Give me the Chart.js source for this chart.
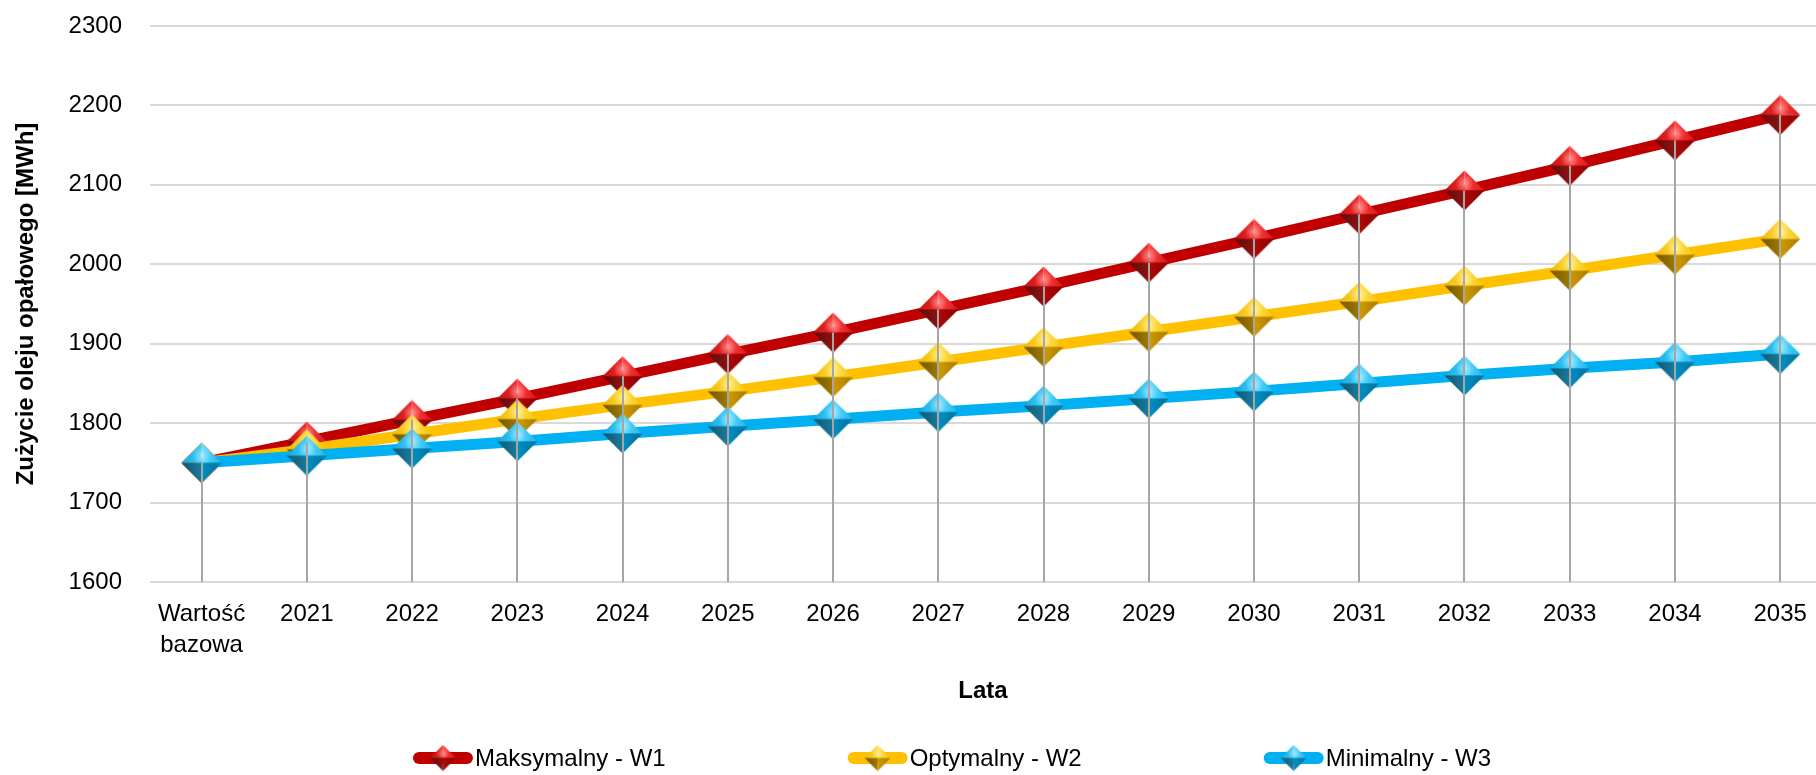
<!DOCTYPE html>
<html>
<head>
<meta charset="utf-8">
<script src="https://cdn.jsdelivr.net/npm/chart.js@4.4.0/dist/chart.umd.min.js"></script>
<style>
  html, body { margin: 0; padding: 0; background: #fff; }
</style>
</head>
<body>
<canvas id="chart" width="1816" height="775"></canvas>
<script>
// Categories (x axis)
const categories = [['Wartość', 'bazowa'], '2021', '2022', '2023', '2024', '2025', '2026', '2027',
  '2028', '2029', '2030', '2031', '2032', '2033', '2034', '2035'];

// Series values [MWh]
const maksymalnyW1 = [1750, 1777, 1804, 1831, 1859, 1887, 1914, 1943, 1972, 2002, 2032, 2063, 2093, 2124, 2156, 2188];
const optymalnyW2 = [1750, 1767, 1786, 1805, 1823, 1840, 1858, 1877, 1896, 1915, 1934, 1953, 1973, 1992, 2012, 2032];
const minimalnyW3 = [1750, 1759, 1768, 1777, 1787, 1796, 1805, 1814, 1822, 1831, 1840, 1850, 1860, 1869, 1877, 1887];

const seriesNames = ['Maksymalny - W1', 'Optymalny - W2', 'Minimalny - W3'];

// Y axis range
const yMin = 1600;
const yMax = 2300;
const yStep = 100;

const FONT = "'Liberation Sans', Arial, sans-serif";
Chart.defaults.font.family = FONT;
Chart.defaults.color = '#000';

// Beveled diamond marker, drawn once per colour
function makeMarker(size, shades) {
  const cv = document.createElement('canvas');
  cv.width = size;
  cv.height = size;
  const g = cv.getContext('2d');
  const m = size / 2;
  const r = size / 2 - 0.5;
  const T = [m, m - r], R = [m + r, m], B = [m, m + r], L = [m - r, m], C = [m, m];

  function face(a, b, fill) {
    g.beginPath();
    g.moveTo(a[0], a[1]);
    g.lineTo(b[0], b[1]);
    g.lineTo(C[0], C[1]);
    g.closePath();
    g.fillStyle = fill;
    g.fill();
  }

  let gr = g.createLinearGradient(L[0], L[1], C[0], C[1]);
  gr.addColorStop(0, shades.tl[0]);
  gr.addColorStop(1, shades.tl[1]);
  face(T, L, gr);

  gr = g.createLinearGradient(R[0], R[1], C[0], C[1]);
  gr.addColorStop(0, shades.tr[0]);
  gr.addColorStop(1, shades.tr[1]);
  face(T, R, gr);

  gr = g.createLinearGradient(R[0], R[1], C[0], C[1]);
  gr.addColorStop(0, shades.br[0]);
  gr.addColorStop(1, shades.br[1]);
  face(R, B, gr);

  gr = g.createLinearGradient(L[0], L[1], C[0], C[1]);
  gr.addColorStop(0, shades.bl[0]);
  gr.addColorStop(1, shades.bl[1]);
  face(B, L, gr);

  // small highlight near the top
  const hl = g.createRadialGradient(m, m - r * 0.35, 0, m, m - r * 0.35, r * 0.45);
  hl.addColorStop(0, 'rgba(255,255,255,0.45)');
  hl.addColorStop(1, 'rgba(255,255,255,0)');
  g.beginPath();
  g.moveTo(T[0], T[1]); g.lineTo(R[0], R[1]); g.lineTo(C[0], C[1]); g.lineTo(L[0], L[1]);
  g.closePath();
  g.fillStyle = hl;
  g.fill();
  return cv;
}

const palette = [
  {
    line: '#C00000',
    tl: ['#c81010', '#f02a2a'], tr: ['#d81818', '#ff4040'],
    br: ['#8a0000', '#b00808'], bl: ['#5e0a0a', '#8c1414']
  },
  {
    line: '#FFC000',
    tl: ['#f0b800', '#ffd83a'], tr: ['#f5c200', '#ffe45a'],
    br: ['#a87a00', '#d09c00'], bl: ['#6e5400', '#a07a00']
  },
  {
    line: '#00B0F0',
    tl: ['#10a8e0', '#40cdfa'], tr: ['#18b4ea', '#66dcff'],
    br: ['#00709c', '#0090c4'], bl: ['#0e5670', '#1a7c9c']
  }
];

const bigMarkers = palette.map(p => makeMarker(41, p));
const smallMarkers = palette.map(p => makeMarker(27, p));

const seriesValues = [maksymalnyW1, optymalnyW2, minimalnyW3];

const datasets = seriesValues.map((vals, k) => ({
  label: seriesNames[k],
  data: vals.map((v, i) => ({ x: i, y: v })),
  borderColor: palette[k].line,
  backgroundColor: palette[k].line,
  borderWidth: 11,
  borderJoinStyle: 'round',
  tension: 0,
  pointStyle: bigMarkers[k],
  pointRadius: 20,
  order: 3 - k // blue drawn on top
}));

// Vertical drop lines from the highest point of each category down to the axis
const dropLinesPlugin = {
  id: 'dropLines',
  afterDatasetsDraw: (chart) => {
    const ctx = chart.ctx;
    const xs = chart.scales.x;
    const ys = chart.scales.y;
    ctx.save();
    ctx.strokeStyle = '#a6a6a6';
    ctx.lineWidth = 2;
    categories.forEach((c, i) => {
      const top = Math.max(...seriesValues.map(s => s[i]));
      const x = Math.round(xs.getPixelForValue(i));
      ctx.beginPath();
      ctx.moveTo(x, ys.getPixelForValue(top));
      ctx.lineTo(x, chart.chartArea.bottom);
      ctx.stroke();
    });
    ctx.restore();
  }
};

// Legend: line sample + marker + text
const legendPlugin = {
  id: 'lineLegend',
  afterDraw: (chart) => {
    const ctx = chart.ctx;
    const lineLen = 60;
    const gap = 182;
    const y = 758;
    ctx.save();
    ctx.font = '24px ' + FONT;
    const widths = seriesNames.map(n => ctx.measureText(n).width);
    const total = widths.reduce((a, w) => a + lineLen + 2 + w, 0) + gap * (seriesNames.length - 1);
    let x = 952 - total / 2;
    seriesNames.forEach((name, k) => {
      ctx.strokeStyle = palette[k].line;
      ctx.lineWidth = 12;
      ctx.lineCap = 'round';
      ctx.beginPath();
      ctx.moveTo(x + 6, y);
      ctx.lineTo(x + lineLen - 6, y);
      ctx.stroke();
      ctx.drawImage(smallMarkers[k], x + lineLen / 2 - 13.5, y - 13.5);
      ctx.fillStyle = '#000';
      ctx.textBaseline = 'middle';
      ctx.fillText(name, x + lineLen + 2, y + 1);
      x += lineLen + 2 + widths[k] + gap;
    });
    ctx.restore();
  }
};

// Drop the automatic label overhang padding so the plot area matches the original
function noOverhang(s) {
  s.paddingTop = 0;
  s.paddingBottom = 0;
  s.paddingLeft = 0;
  s.paddingRight = 0;
}

const ctx = document.getElementById('chart').getContext('2d');
new Chart(ctx, {
  type: 'line',
  data: { datasets: datasets },
  plugins: [dropLinesPlugin, legendPlugin],
  options: {
    responsive: false,
    animation: false,
    events: [],
    devicePixelRatio: 1,
    layout: { autoPadding: false, padding: { top: 26, right: 0, bottom: 0, left: 0 } },
    plugins: {
      legend: { display: false },
      tooltip: { enabled: false }
    },
    scales: {
      x: {
        type: 'linear',
        min: -0.49,
        max: 15.34,
        afterFit: (s) => { s.height = 193; noOverhang(s); },
        grid: { display: false, drawTicks: false },
        border: { display: false },
        ticks: {
          stepSize: 1,
          includeBounds: false,
          autoSkip: false,
          maxRotation: 0,
          padding: 17,
          font: { size: 24, lineHeight: 1.3 },
          color: '#000',
          callback: (v) => Number.isInteger(v) && categories[v] !== undefined ? categories[v] : ''
        },
        title: {
          display: true,
          text: 'Lata',
          color: '#000',
          font: { size: 24, weight: 'bold', lineHeight: 1.2 },
          padding: { top: 0, bottom: 69 }
        }
      },
      y: {
        min: yMin,
        max: yMax,
        afterFit: (s) => { s.width = 150; noOverhang(s); },
        grid: { color: '#d9d9d9', lineWidth: 2, drawTicks: false },
        border: { display: false },
        ticks: {
          stepSize: yStep,
          padding: 28,
          font: { size: 24 },
          color: '#000',
          callback: (v) => String(v)
        },
        title: {
          display: true,
          text: 'Zużycie oleju opałowego [MWh]',
          color: '#000',
          font: { size: 24, weight: 'bold', lineHeight: 1.2 },
          padding: { top: 12, bottom: 0 }
        }
      }
    }
  }
});
</script>
</body>
</html>
